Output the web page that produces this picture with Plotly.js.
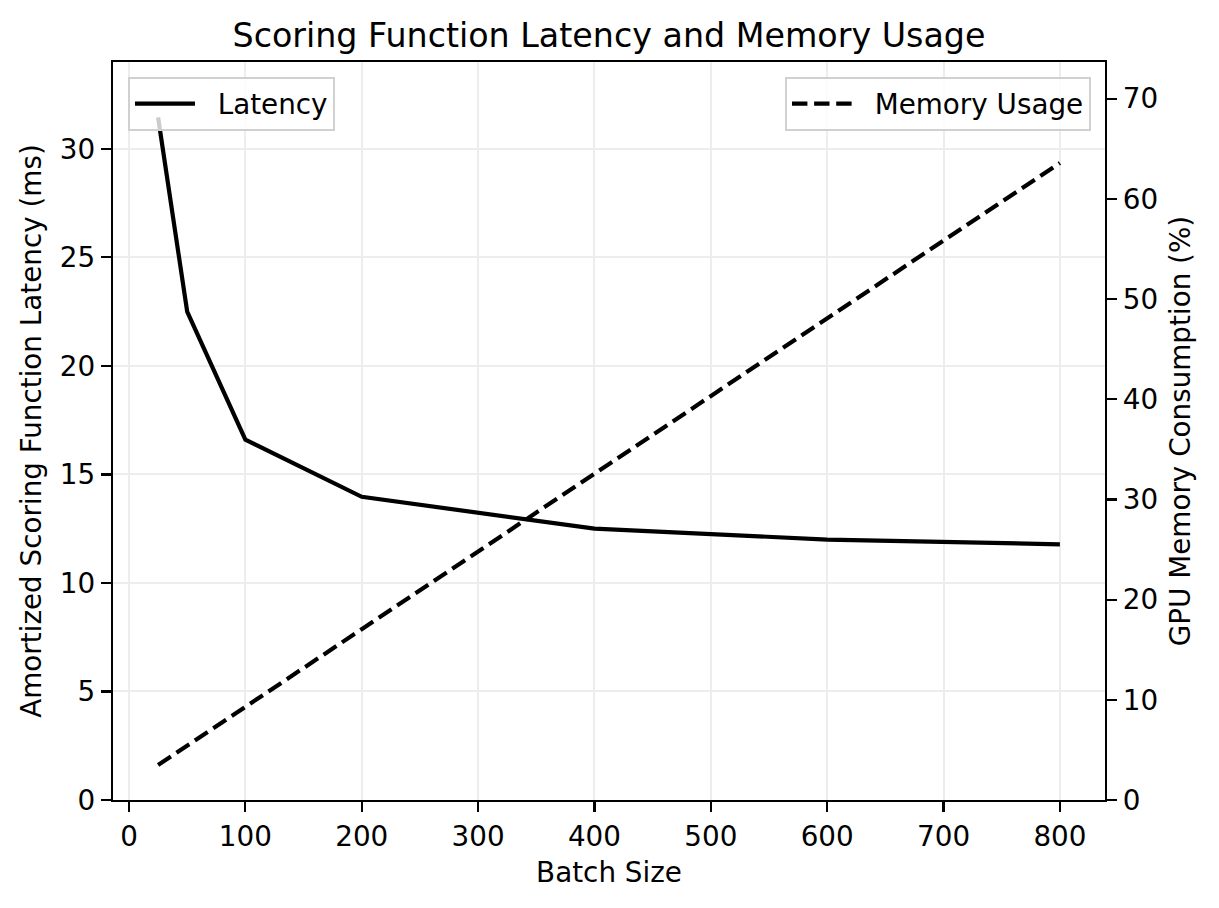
<!DOCTYPE html>
<html>
<head>
<meta charset="utf-8">
<script src="https://cdn.plot.ly/plotly-3.0.1.min.js"></script>
<style>body{margin:0;padding:0;background:#fff;}</style>
</head>
<body>
<div id="chart" style="width:1219px;height:908px;"></div>
<script>
const batchSizes = [25, 50, 100, 200, 400, 600, 800];
const latencyMs = [31.45, 22.5, 16.6, 13.97, 12.5, 12.0, 11.78];
const memoryPct = [3.5, 5.4, 9.3, 17.05, 32.6, 48.1, 63.6];
const xTicks = [0, 100, 200, 300, 400, 500, 600, 700, 800];
const seriesNames = ["Latency", "Memory Usage"];

const FONT = "DejaVu Sans, Verdana, sans-serif";
const FS = 27.8;
const GAP = "\u00a0\u00a0";

const traces = [
  {
    x: batchSizes, y: latencyMs, name: GAP + seriesNames[0], type: "scatter", mode: "lines",
    line: {color: "#000000", width: 4.2}, yaxis: "y", legend: "legend"
  },
  {
    x: batchSizes, y: memoryPct, name: GAP + seriesNames[1], type: "scatter", mode: "lines",
    line: {color: "#000000", width: 4.2, dash: "15.4px,6.7px"}, yaxis: "y2", legend: "legend2"
  }
];

const axisCommon = {
  ticks: "outside", ticklen: 10, tickwidth: 2.2, tickcolor: "#000",
  showline: true, linecolor: "#000", linewidth: 2.2,
  zeroline: false, tickfont: {family: FONT, size: FS, color: "#000"}
};

const legendCommon = {
  bgcolor: "rgba(255,255,255,0.8)", bordercolor: "#d0d0d0", borderwidth: 2,
  font: {family: FONT, size: FS, color: "#000"}, yanchor: "top", yref: "paper", xref: "paper",
  itemwidth: 60
};

const layout = {
  width: 1219, height: 908,
  margin: {l: 113, r: 114, t: 62, b: 108, pad: 0},
  paper_bgcolor: "#fff", plot_bgcolor: "#fff",
  font: {family: FONT, size: FS, color: "#000"},
  title: {text: "Scoring Function Latency and Memory Usage", x: 0.5, xref: "paper", y: 1 - 35/908, yref: "container", yanchor: "middle", font: {family: FONT, size: 33.3, color: "#000"}},
  xaxis: Object.assign({}, axisCommon, {
    range: [-13.75, 838.75], tickvals: xTicks, mirror: true,
    showgrid: true, gridcolor: "#ededed", gridwidth: 2,
    title: {text: "Batch Size", standoff: 11, font: {family: FONT, size: FS, color: "#000"}}
  }),
  yaxis: Object.assign({}, axisCommon, {
    range: [0, 34], dtick: 5, tick0: 0,
    showgrid: true, gridcolor: "#ededed", gridwidth: 2,
    title: {text: "Amortized Scoring Function Latency (ms)", standoff: 10, font: {family: FONT, size: FS, color: "#000"}}
  }),
  yaxis2: Object.assign({}, axisCommon, {
    range: [0, 73.67], dtick: 10, tick0: 0, overlaying: "y", side: "right", showgrid: false,
    title: {text: "GPU Memory Consumption (%)", standoff: 14, font: {family: FONT, size: FS, color: "#000"}}
  }),
  legend: Object.assign({}, legendCommon, {x: 0.0151, xanchor: "left", y: 0.9797}),
  legend2: Object.assign({}, legendCommon, {x: 0.9859, xanchor: "right", y: 0.9797}),
  showlegend: true
};

Plotly.newPlot("chart", traces, layout, {displayModeBar: false, staticPlot: true});
</script>
</body>
</html>
